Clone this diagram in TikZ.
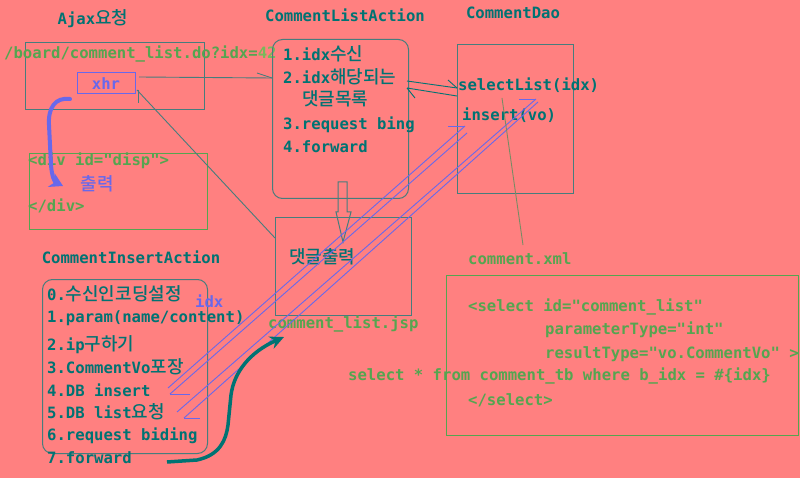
\documentclass[tikz,border=0pt]{standalone}
\usepackage{fontspec}
\setmonofont{DejaVu Sans Mono}
\newfontfamily\kr[Scale=1.15, BoldFont={Noto Sans CJK KR Medium}]{Noto Sans CJK KR}
\usetikzlibrary{arrows.meta}
\definecolor{bgpink}{RGB}{255,128,128}
\definecolor{tealtx}{RGB}{0,115,115}
\definecolor{boxln}{RGB}{70,125,125}
\definecolor{greentx}{RGB}{85,165,80}
\definecolor{lgreen}{RGB}{120,185,90}
\definecolor{vio}{RGB}{104,104,235}
\definecolor{olive}{RGB}{120,140,100}
\newcommand\fsz{\fontsize{15.6}{18}\selectfont\ttfamily\bfseries}
\begin{document}
\begin{tikzpicture}[x=1pt,y=-1pt,
  txt/.style={inner sep=0pt, anchor=mid west, font=\fsz, text=tealtx},
  ctxt/.style={inner sep=0pt, anchor=mid, font=\fsz, text=tealtx},
  gtxt/.style={txt, text=greentx},
  vtxt/.style={txt, text=vio},
  tealbox/.style={draw=boxln, line width=1pt, inner sep=0pt, anchor=north west},
  greenbox/.style={draw=greentx, line width=1pt, inner sep=0pt, anchor=north west},
  thinln/.style={line width=0.9pt},
]
\fill[bgpink] (0,0) rectangle (800,478);
\useasboundingbox (0,0) rectangle (800,478);

% titles
\node[ctxt] (ajaxT) at (93,22) {Ajax{\kr 요청}};
\node[ctxt] (claT) at (345,19) {CommentListAction};
\node[ctxt] (daoT) at (513,16) {CommentDao};
\node[ctxt] (ciaT) at (131,261) {CommentInsertAction};

% Ajax box
\node[tealbox, minimum width=179pt, minimum height=67pt] (ajaxbox) at (25,42) {};
\node[gtxt] (url) at (4,56) {/board/comment\_list.do?idx={\color{lgreen}42}};
\node[draw=vio, line width=1pt, text=vio, font=\fsz, inner sep=0pt, minimum width=58pt, minimum height=21pt] (xhr) at (106,83.5) {xhr};

% div box
\node[greenbox, minimum width=178pt, minimum height=76pt] (divbox) at (29,153) {};
\node[gtxt] (divopen) at (28,163) {<div id="disp">};
\node[vtxt, anchor=mid] (out1) at (97,188) {\kr 출력};
\node[gtxt] (divclose) at (28,209) {</div>};

% blue curved arrow
\coordinate (b0) at (70,99);
\coordinate (b1) at (63,186);
\draw[vio, line width=4pt, line cap=round, -{Stealth[length=13pt,width=15pt]}]
  (b0) .. controls (55,97) and (48,108) .. (49,125) -- (51,165) .. controls (52,178) and (55,182) .. (b1);

% CommentListAction box
\node[tealbox, rounded corners=10pt, minimum width=136pt, minimum height=159pt] (cla) at (272,39) {};
\node[txt] (cl1) at (283,58) {1.idx{\kr 수신}};
\node[txt] (cl2) at (283,81) {2.idx{\kr 해당되는}};
\node[txt] (cl3) at (302,103) {\kr 댓글목록};
\node[txt] (cl4) at (283,127) {3.request bing};
\node[txt] (cl5) at (283,150) {4.forward};

% hollow block arrow CLA -> jsp
\draw[boxln, line width=1pt] (338,182) -- (347,182) -- (347,212) -- (351,212) -- (343,242) -- (336,212) -- (338,212) -- cycle;

% jsp box
\node[tealbox, minimum width=136pt, minimum height=98pt] (jsp) at (275,217) {};
\node[txt] (jspout) at (289,261) {\kr 댓글출력};
\node[gtxt] (jspname) at (268,326) {comment\_list.jsp};

% CommentDao box
\node[tealbox, minimum width=116pt, minimum height=149pt] (dao) at (457,44) {};
\node[txt] (sel) at (458,88) {selectList(idx)};
\node[txt] (ins) at (462,118) {insert(vo)};

% xhr <-> CLA, xhr <- jsp
\coordinate (x1) at (139,77);
\coordinate (x2) at (272,78);
\draw[boxln, thinln] (x1) -- (x2);
\draw[boxln, thinln] (257,73) -- (x2);
\coordinate (j1) at (275,238);
\coordinate (j2) at (137,90);
\draw[boxln, thinln] (j1) -- (j2);
\draw[boxln, thinln] (138,90) -- (138,103);

% CLA <-> Dao
\coordinate (d1) at (407,81);
\coordinate (d2) at (457,88);
\draw[tealtx, thinln] (d1) -- (d2);
\draw[tealtx, thinln] (448,80) -- (d2);
\coordinate (d3) at (457,96);
\coordinate (d4) at (407,88);
\draw[tealtx, thinln] (d3) -- (d4);
\draw[tealtx, thinln] (d4) -- (415,98);

% CommentInsertAction box
\node[tealbox, rounded corners=10pt, minimum width=165pt, minimum height=174pt] (cia) at (42,279) {};
\node[txt] (ci0) at (47,298) {0.{\kr 수신인코딩설정}};
\node[txt] (ci1) at (47,320) {1.param(name/content)};
\node[txt] (ci2) at (47,348) {2.ip{\kr 구하기}};
\node[txt] (ci3) at (47,371) {3.CommentVo{\kr 포장}};
\node[txt] (ci4) at (47,394) {4.DB insert};
\node[txt] (ci5) at (47,416) {5.DB list{\kr 요청}};
\node[txt] (ci6) at (47,438) {6.request biding};
\node[txt] (ci7) at (47,461) {7.forward};
\node[vtxt] (idxlbl) at (195,305) {idx};

% insert / list arrows (violet)
\coordinate (a1) at (168,388);
\coordinate (a2) at (465,126);
\draw[vio, thinln] (a1) -- (a2);
\draw[vio, thinln] (448,126) -- (a2);
\coordinate (a3) at (467,133);
\coordinate (a4) at (170,394);
\draw[vio, thinln] (a3) -- (a4);
\draw[vio, thinln] (a4) -- (190,394);
\coordinate (s1) at (177,412);
\coordinate (s2) at (536,99);
\draw[vio, thinln] (s1) -- (s2);
\draw[vio, thinln] (519,99) -- (s2);
\coordinate (s3) at (538,102);
\coordinate (s4) at (184,418);
\draw[vio, thinln] (s3) -- (s4);
\draw[vio, thinln] (s4) -- (200,418);

% teal forward arrow
\coordinate (t0) at (167,462);
\coordinate (t1) at (284,337);
\draw[tealtx, line width=3.5pt, -{Stealth[length=14pt,width=13pt]}]
  (t0) -- (197,460) .. controls (220,455) and (226,440) .. (228,425) -- (231,395) .. controls (234,372) and (250,352) .. (t1);

% comment.xml
\node[gtxt] (xmlname) at (468,262) {comment.xml};
\coordinate (m1) at (502,98);
\coordinate (m2) at (523,245);
\draw[olive, thinln] (m1) -- (m2);
\node[greenbox, minimum width=352pt, minimum height=160pt] (xmlbox) at (446,275) {};
\node[gtxt] (xl1) at (468,309) {<select id="comment\_list"};
\node[gtxt] (xl2) at (545,332) {parameterType="int"};
\node[gtxt] (xl3) at (545,356) {resultType="vo.CommentVo" >};
\node[gtxt] (xl4) at (348,378) {select * from comment\_tb where b\_idx = \#\{idx\}};
\node[gtxt] (xl5) at (468,403) {</select>};
\end{tikzpicture}
\end{document}
